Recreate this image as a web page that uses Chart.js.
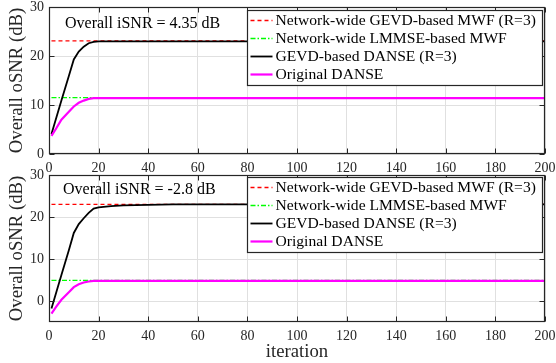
<!DOCTYPE html>
<html>
<head>
<meta charset="utf-8">
<script src="https://cdn.jsdelivr.net/npm/chart.js@4.4.1/dist/chart.umd.min.js"></script>
<style>
  html, body { margin: 0; padding: 0; background: #ffffff; }
  body { width: 556px; height: 363px; position: relative; overflow: hidden; }
  canvas { position: absolute; left: 0; }
  #topPlot { top: 0; }
  #bottomPlot { top: 166px; }
</style>
</head>
<body>
<canvas id="topPlot" width="556" height="175"></canvas>
<canvas id="bottomPlot" width="556" height="197"></canvas>
<script>
// Iteration indices at which the oSNR curves are sampled
const iterations = [1, 3, 5, 8, 10, 12, 14, 16, 18, 20, 25, 30, 40, 50, 75, 100, 150, 200];

// Scenario 1: overall iSNR = 4.35 dB
const top_gevdMwf   = [23.1, 23.1, 23.1, 23.1, 23.1, 23.1, 23.1, 23.1, 23.1, 23.1, 23.1, 23.1, 23.1, 23.1, 23.1, 23.1, 23.1, 23.1];
const top_lmmseMwf  = [11.5, 11.5, 11.5, 11.5, 11.5, 11.5, 11.5, 11.5, 11.5, 11.5, 11.5, 11.5, 11.5, 11.5, 11.5, 11.5, 11.5, 11.5];
const top_gevdDanse = [4.1, 7.5, 10.9, 15.9, 19.3, 20.9, 21.9, 22.6, 22.9, 23.0, 23.0, 23.0, 23.0, 23.0, 23.0, 23.0, 23.0, 23.0];
const top_origDanse = [3.7, 5.3, 7.0, 8.6, 9.7, 10.45, 10.9, 11.25, 11.4, 11.4, 11.4, 11.4, 11.4, 11.4, 11.4, 11.4, 11.4, 11.4];

// Scenario 2: overall iSNR = -2.8 dB
const bot_gevdMwf   = [23.0, 23.0, 23.0, 23.0, 23.0, 23.0, 23.0, 23.0, 23.0, 23.0, 23.0, 23.0, 23.0, 23.0, 23.0, 23.0, 23.0, 23.0];
const bot_lmmseMwf  = [4.9, 4.9, 4.9, 4.9, 4.9, 4.9, 4.9, 4.9, 4.9, 4.9, 4.9, 4.9, 4.9, 4.9, 4.9, 4.9, 4.9, 4.9];
const bot_gevdDanse = [-1.8, 2.2, 6.2, 12.1, 16.2, 18.3, 19.7, 21.0, 22.0, 22.3, 22.6, 22.75, 22.9, 23.0, 23.0, 23.0, 23.0, 23.0];
const bot_origDanse = [-3.0, -1.3, 0.3, 2.1, 3.3, 4.0, 4.4, 4.65, 4.8, 4.8, 4.8, 4.8, 4.8, 4.8, 4.8, 4.8, 4.8, 4.8];

// Axis ticks
const xTicks = [0, 20, 40, 60, 80, 100, 120, 140, 160, 180, 200];
const yTicks = [0, 10, 20, 30];

// Series names
const seriesNames = [
  'Network-wide GEVD-based MWF (R=3)',
  'Network-wide LMMSE-based MWF',
  'GEVD-based DANSE (R=3)',
  'Original DANSE'
];

const SERIF = "'Liberation Serif', 'Times New Roman', serif";
const AXIS_COLOR = '#262626';
const GRID_COLOR = '#e0e0e0';

const styles = [
  { borderColor: '#ff0000', borderWidth: 1.3, borderDash: [4, 3], order: 4 },
  { borderColor: '#00ff00', borderWidth: 1.3, borderDash: [5, 2, 1.5, 2], order: 3 },
  { borderColor: '#000000', borderWidth: 1.8, borderDash: [], order: 2 },
  { borderColor: '#ff00ff', borderWidth: 2.2, borderDash: [], order: 1 }
];

function makeDatasets(seriesList) {
  return seriesList.map((vals, i) => ({
    label: seriesNames[i],
    data: iterations.map((it, k) => ({ x: it, y: vals[k] })),
    borderColor: styles[i].borderColor,
    borderWidth: styles[i].borderWidth,
    borderDash: styles[i].borderDash,
    order: styles[i].order,
    pointRadius: 0,
    tension: 0,
    fill: false
  }));
}

// Box frame, inward tick marks, in-axes legend and iSNR annotation
const framePlugin = {
  id: 'frame',
  afterDatasetsDraw(chart, args, opts) {
    const ctx = chart.ctx;
    const a = chart.chartArea;
    const xs = chart.scales.x, ys = chart.scales.y;
    ctx.save();
    ctx.strokeStyle = AXIS_COLOR;
    ctx.lineWidth = 1;
    ctx.setLineDash([]);
    const L = Math.round(a.left) + 0.5, R = Math.round(a.right) - 0.5;
    const T = Math.round(a.top) + 0.5, B = Math.round(a.bottom) - 0.5;
    ctx.beginPath();
    xTicks.forEach(v => {
      const px = Math.round(xs.getPixelForValue(v)) + 0.5;
      ctx.moveTo(px, B); ctx.lineTo(px, B - 5);
      ctx.moveTo(px, T); ctx.lineTo(px, T + 5);
    });
    yTicks.forEach(v => {
      const py = Math.round(ys.getPixelForValue(v)) + 0.5;
      ctx.moveTo(L, py); ctx.lineTo(L + 5, py);
      ctx.moveTo(R, py); ctx.lineTo(R - 5, py);
    });
    ctx.stroke();
    ctx.lineWidth = 1.2;
    ctx.strokeRect(L, T, R - L, B - T);

    // annotation text
    ctx.fillStyle = '#000000';
    ctx.font = '16px ' + SERIF;
    ctx.textAlign = 'left';
    ctx.textBaseline = 'middle';
    ctx.fillText(opts.note, a.left + opts.noteDx, a.top + opts.noteDy);

    // legend
    const bx = Math.round(a.right - 298) + 0.5;
    const by = Math.round(a.top + opts.legendDy) + 0.5;
    const bw = 295, bh = 75;
    ctx.fillStyle = '#ffffff';
    ctx.fillRect(bx, by, bw, bh);
    ctx.strokeStyle = AXIS_COLOR;
    ctx.lineWidth = 1.2;
    ctx.strokeRect(bx, by, bw, bh);
    ctx.font = '15.6px ' + SERIF;
    chart.data.datasets.forEach((ds, i) => {
      const ry = by + 10 + i * 18;
      ctx.strokeStyle = ds.borderColor;
      ctx.lineWidth = ds.borderWidth;
      ctx.setLineDash(ds.borderDash);
      ctx.beginPath();
      ctx.moveTo(bx + 3, ry);
      ctx.lineTo(bx + 25, ry);
      ctx.stroke();
      ctx.setLineDash([]);
      ctx.fillStyle = '#000000';
      ctx.fillText(ds.label, bx + 28, ry);
    });
    ctx.restore();
  }
};

function noAutoPad(s) {
  s.paddingLeft = 0; s.paddingRight = 0; s.paddingTop = 0; s.paddingBottom = 0;
}

function makeChart(canvasId, seriesList, yMin, opts) {
  return new Chart(document.getElementById(canvasId), {
    type: 'line',
    data: { datasets: makeDatasets(seriesList) },
    options: {
      responsive: false,
      animation: false,
      devicePixelRatio: 1,
      layout: { autoPadding: false, padding: { top: opts.padTop, right: 11, left: 0, bottom: 0 } },
      plugins: {
        legend: { display: false },
        tooltip: { enabled: false },
        frame: opts
      },
      scales: {
        x: {
          type: 'linear',
          min: 0, max: 200,
          afterBuildTicks: s => { s.ticks = xTicks.map(v => ({ value: v })); },
          afterFit: s => { s.height = opts.xHeight; noAutoPad(s); },
          grid: { color: GRID_COLOR, drawTicks: false, lineWidth: 1 },
          border: { display: false },
          ticks: { color: AXIS_COLOR, font: { family: SERIF, size: 14 }, padding: 5.5, maxRotation: 0 },
          title: {
            display: opts.showXTitle,
            text: 'iteration',
            color: AXIS_COLOR,
            font: { family: SERIF, size: 18.7 },
            padding: { top: 0, bottom: 0 }
          }
        },
        y: {
          type: 'linear',
          min: yMin, max: 30,
          afterBuildTicks: s => { s.ticks = yTicks.map(v => ({ value: v })); },
          afterFit: s => { s.width = 49; noAutoPad(s); },
          grid: { color: GRID_COLOR, drawTicks: false, lineWidth: 1 },
          border: { display: false },
          ticks: { color: AXIS_COLOR, font: { family: SERIF, size: 14 }, padding: 5 },
          title: {
            display: true,
            text: 'Overall oSNR (dB)',
            color: AXIS_COLOR,
            font: { family: SERIF, size: 18.7 },
            padding: { top: 5.5, bottom: 0 }
          }
        }
      }
    },
    plugins: [framePlugin]
  });
}

makeChart('topPlot', [top_gevdMwf, top_lmmseMwf, top_gevdDanse, top_origDanse], 0, {
  padTop: 7, xHeight: 21, showXTitle: false,
  note: 'Overall iSNR = 4.35 dB', noteDx: 16, noteDy: 17, legendDy: 2.5
});

makeChart('bottomPlot', [bot_gevdMwf, bot_lmmseMwf, bot_gevdDanse, bot_origDanse], -5, {
  padTop: 9, xHeight: 41, showXTitle: true,
  note: 'Overall iSNR = -2.8 dB', noteDx: 14, noteDy: 15, legendDy: 1.5
});
</script>
</body>
</html>
